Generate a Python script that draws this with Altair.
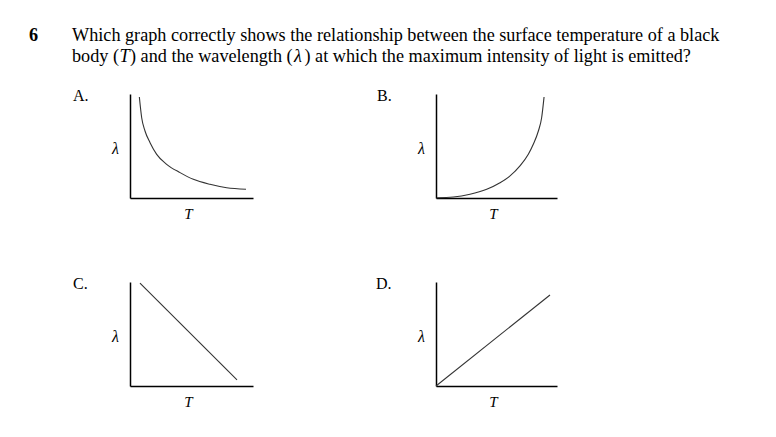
import altair as alt
import pandas as pd

# ---- text ----
QUESTION_NUMBER = "6"
LINE1 = "Which graph correctly shows the relationship between the surface temperature of a black"
LINE2_SEGMENTS = ["body (", "T", ") and the wavelength (", "λ", ") at which the maximum intensity of light is emitted?"]
LINE2_ITALIC = [False, True, False, True, False]
PANEL_LABELS = ["A.", "B.", "C.", "D."]
X_TITLE = "T"
Y_TITLE = "λ"

# ---- data (axis units 0..10) ----
A_T = [0.76, 0.95, 1.22, 1.63, 2.17, 2.98, 4.07, 5.15, 6.50, 7.86, 9.43]
A_L = [9.71, 7.72, 6.44, 5.32, 4.20, 3.24, 2.44, 1.80, 1.32, 0.99, 0.84]
B_T = [0.06, 1.43, 2.81, 4.19, 5.29, 6.12, 6.94, 7.63, 8.04, 8.46, 8.73, 8.93]
B_L = [0.03, 0.10, 0.36, 0.84, 1.47, 2.12, 3.08, 4.20, 5.16, 6.44, 7.72, 9.71]
C_T = [0.81, 8.70]
C_L = [9.90, 0.58]
D_T = [0.0, 9.42]
D_L = [0.0, 8.75]

SERIF = "Liberation Serif"
FS_Q = 18.2
# x offsets of line-2 segments
SEG_X = [0, 47.5, 58.0, 222.0, 232.5]


def panel(label, t, lam, width, label_dx, extra=None):
    df = pd.DataFrame({"T": t, "lam": lam})
    line = alt.Chart(df).mark_line(
        color="#333333", strokeWidth=1.1, interpolate="monotone"
    ).encode(
        x=alt.X("T:Q", scale=alt.Scale(domain=[0, 10], nice=False, zero=False),
                axis=alt.Axis(title=X_TITLE, domain=True, domainColor="black", domainWidth=1.5,
                              ticks=False, labels=False, grid=False,
                              titleFont=SERIF, titleFontStyle="italic", titleFontWeight="normal",
                              titleFontSize=15, titleColor="black",
                              titleX=width * 0.47, titleY=20, titleAlign="center",
                              titleBaseline="alphabetic")),
        y=alt.Y("lam:Q", scale=alt.Scale(domain=[0, 10], nice=False, zero=False),
                axis=alt.Axis(title=Y_TITLE, domain=True, domainColor="black", domainWidth=1.5,
                              ticks=False, labels=False, grid=False,
                              titleFont=SERIF, titleFontStyle="italic", titleFontWeight="normal",
                              titleFontSize=16, titleColor="black", titleAngle=0,
                              titleX=-15, titleY=54, titleAlign="center",
                              titleBaseline="middle")),
    )
    lab = alt.Chart(pd.DataFrame({"label": [label]})).mark_text(
        align="left", baseline="alphabetic", font=SERIF, fontSize=16, color="black"
    ).encode(x=alt.value(label_dx), y=alt.value(7), text="label:N")
    layers = [line, lab]
    if extra:
        layers += extra
    return alt.layer(*layers).properties(width=width, height=104)


# question text layers (placed relative to panel A's plot area)
num = alt.Chart(pd.DataFrame({"s": [QUESTION_NUMBER]})).mark_text(
    align="left", baseline="alphabetic", font=SERIF, fontSize=FS_Q, fontWeight="bold", color="black"
).encode(x=alt.value(-101), y=alt.value(-53), text="s:N")
l1 = alt.Chart(pd.DataFrame({"s": [LINE1]})).mark_text(
    align="left", baseline="alphabetic", font=SERIF, fontSize=FS_Q, color="black"
).encode(x=alt.value(-58), y=alt.value(-53), text="s:N")
segs = []
for s, it, dx in zip(LINE2_SEGMENTS, LINE2_ITALIC, SEG_X):
    kw = dict(align="left", baseline="alphabetic", font=SERIF, fontSize=FS_Q, color="black")
    if it:
        kw["fontStyle"] = "italic"
    segs.append(alt.Chart(pd.DataFrame({"s": [s]})).mark_text(**kw).encode(
        x=alt.value(-58 + dx), y=alt.value(-32), text="s:N"))

pA = panel(PANEL_LABELS[0], A_T, A_L, 123, -57, [num, l1] + segs)
pB = panel(PANEL_LABELS[1], B_T, B_L, 121, -59)
pC = panel(PANEL_LABELS[2], C_T, C_L, 123, -57)
pD = panel(PANEL_LABELS[3], D_T, D_L, 121, -60)

chart = alt.concat(pA, pB, pC, pD, columns=2, spacing={"row": 84, "column": 183},
                   bounds="flush").properties(
    padding={"left": 21, "top": 18, "right": 5, "bottom": 5},
    background="white",
).configure_view(stroke="transparent", strokeWidth=0)

chart.save("out.html", embed_options={"renderer": "svg", "actions": False})
